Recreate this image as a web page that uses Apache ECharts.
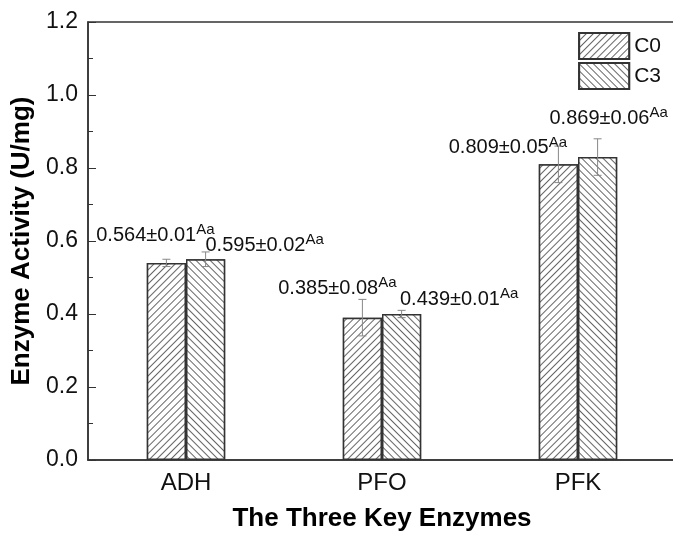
<!DOCTYPE html>
<html>
<head>
<meta charset="utf-8">
<script src="https://cdn.jsdelivr.net/npm/echarts@6/dist/echarts.min.js"></script>
<style>
html,body{margin:0;padding:0;background:#fff;}
#chart{width:673px;height:533px;}
</style>
</head>
<body>
<div id="chart"></div>
<script>
// ---- data ----
const categories = ['ADH', 'PFO', 'PFK'];
const seriesNames = ['C0', 'C3'];
const c0Values = [0.54, 0.39, 0.81];
const c3Values = [0.55, 0.40, 0.83];
const c0Errors = [0.01, 0.05, 0.05];
const c3Errors = [0.02, 0.01, 0.05];
const c0LabelText = ['0.564±0.01', '0.385±0.08', '0.809±0.05'];
const c3LabelText = ['0.595±0.02', '0.439±0.01', '0.869±0.06'];
const c0Letters = ['Aa', 'Aa', 'Aa'];
const c3Letters = ['Aa', 'Aa', 'Aa'];

// ---- layout (label placement relative to bar top) ----
const c0LabelOffsets = [[-11, -14.6], [-25, -16], [-50.5, -3.4]];
const c3LabelOffsets = [[59, -1.2], [57.5, -1.4], [11, -26]];

const FONT = 'Liberation Sans, Arial, Helvetica, sans-serif';

function hatch(rot) {
  return {
    symbol: 'rect',
    symbolSize: 1,
    dashArrayX: [1, 0],
    dashArrayY: [1, 4],
    rotation: rot,
    color: '#666',
    backgroundColor: '#fff'
  };
}

function barData(values, texts, letters, offsets) {
  return values.map((v, i) => ({
    value: v,
    label: {
      offset: offsets[i],
      formatter: '{m|' + texts[i] + '}{s|' + letters[i] + '}'
    }
  }));
}

const labelRich = {
  m: { fontSize: 20, lineHeight: 26, fontFamily: FONT, color: '#111' },
  s: { fontSize: 15, lineHeight: 11, verticalAlign: 'top', fontFamily: FONT, color: '#111' }
};

function errorSeries(values, errors, side) {
  return {
    type: 'custom',
    z: 10,
    silent: true,
    data: values.map((v, i) => [i, v, errors[i]]),
    renderItem: function (params, api) {
      const idx = api.value(0);
      const v = api.value(1);
      const e = api.value(2);
      const band = api.size([1, 0])[0];
      const cx = api.coord([idx, v])[0] + side * band * 0.1;
      const yHi = api.coord([idx, v + e])[1];
      const yLo = api.coord([idx, v - e])[1];
      const cap = 4;
      const st = { stroke: '#888', lineWidth: 1 };
      return {
        type: 'group',
        children: [
          { type: 'line', shape: { x1: cx, y1: yHi, x2: cx, y2: yLo }, style: st },
          { type: 'line', shape: { x1: cx - cap, y1: yHi, x2: cx + cap, y2: yHi }, style: st },
          { type: 'line', shape: { x1: cx - cap, y1: yLo, x2: cx + cap, y2: yLo }, style: st }
        ]
      };
    }
  };
}

const chart = echarts.init(document.getElementById('chart'), null, { renderer: 'canvas' });

const option = {
  backgroundColor: '#fff',
  animation: false,
  textStyle: { fontFamily: FONT },
  grid: {
    left: 88, top: 22, right: -3, bottom: 73,
    outerBoundsMode: 'none',
    containLabel: false,
    show: true, borderColor: '#333', borderWidth: 1.5, backgroundColor: 'transparent'
  },
  legend: {
    data: seriesNames,
    orient: 'vertical',
    right: 7,
    top: 27,
    itemWidth: 50,
    itemHeight: 26,
    itemGap: 2,
    icon: 'rect',
    textStyle: { fontSize: 21, color: '#111', fontFamily: FONT }
  },
  xAxis: {
    type: 'category',
    data: categories,
    axisLine: { lineStyle: { color: '#333', width: 1.5 } },
    axisTick: { inside: true, length: 5, lineStyle: { color: '#333' } },
    axisLabel: { fontSize: 24, color: '#111', margin: 11, fontFamily: FONT },
    name: 'The Three Key Enzymes',
    nameLocation: 'middle',
    nameGap: 46,
    nameTextStyle: { fontSize: 26, fontWeight: 'bold', color: '#000', fontFamily: FONT }
  },
  yAxis: {
    type: 'value',
    min: 0,
    max: 1.2,
    interval: 0.2,
    splitLine: { show: false },
    axisLine: { show: true, lineStyle: { color: '#333', width: 1.5 } },
    axisTick: { show: true, inside: true, length: 8, lineStyle: { color: '#333' } },
    minorTick: { show: true, splitNumber: 2, length: 5, lineStyle: { color: '#333' } },
    axisLabel: {
      fontSize: 23, color: '#111', margin: 10, fontFamily: FONT,
      formatter: v => v.toFixed(1)
    },
    name: 'Enzyme Activity (U/mg)',
    nameLocation: 'middle',
    nameGap: 52,
    nameTextStyle: { fontSize: 26, fontWeight: 'bold', color: '#000', fontFamily: FONT }
  },
  series: [
    {
      name: 'C0',
      type: 'bar',
      barWidth: '20%',
      barGap: '0%',
      data: barData(c0Values, c0LabelText, c0Letters, c0LabelOffsets),
      itemStyle: { color: '#fff', borderColor: '#333', borderWidth: 1.5, decal: hatch(-Math.PI / 4) },
      label: { show: true, position: 'top', distance: 0, rich: labelRich }
    },
    {
      name: 'C3',
      type: 'bar',
      barWidth: '20%',
      barGap: '0%',
      data: barData(c3Values, c3LabelText, c3Letters, c3LabelOffsets),
      itemStyle: { color: '#fff', borderColor: '#333', borderWidth: 1.5, decal: hatch(Math.PI / 4) },
      label: { show: true, position: 'top', distance: 0, rich: labelRich }
    },
    errorSeries(c0Values, c0Errors, -1),
    errorSeries(c3Values, c3Errors, 1)
  ]
};
chart.setOption(option);
</script>
</body>
</html>
